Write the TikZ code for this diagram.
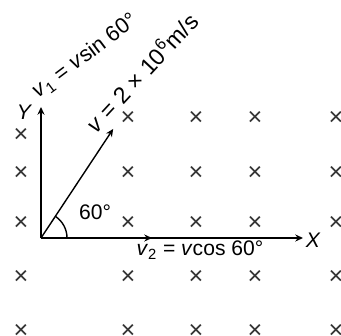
\documentclass[tikz,border=0pt]{standalone}
\usepackage{fontspec}
\setmainfont{Liberation Sans}
\usetikzlibrary{arrows.meta}

\begin{document}
\begin{tikzpicture}[
  lbl/.style={font=\fontsize{15}{18}\selectfont, inner sep=0pt},
  slant/.style={font=\fontsize{16.5}{19}\selectfont, inner sep=0pt},
  fld/.style={font=\fontsize{18}{20}\selectfont, inner sep=0pt, text=black!80},
  >={Stealth[length=5.5pt,width=5pt]}, line width=1pt
]
\useasboundingbox (-1.025,-2.425) rectangle (7.5,5.95);

% Field crosses (into the page)
\foreach \x [count=\i] in {2.175,3.875,5.35,7.375}
  \foreach \y [count=\j] in {3.0,1.625,0.375,-0.975,-2.325}
    \node[fld] (b\i\j) at (\x,\y) {×};
\foreach \y [count=\j] in {2.575,1.625,0.375,-0.975,-2.325}
  \node[fld] (a\j) at (-0.5,\y) {×};

% Axes and velocity
\coordinate (O) at (0,0);
\coordinate (Yend) at (0,3.275);
\coordinate (Xend) at (6.55,0);
\coordinate (V2end) at (2.775,0);
\coordinate (Vend) at (56.5:3.27);
\draw[->] (O) -- (Yend);
\draw[->] (O) -- (Xend);
\draw[->] (O) -- (V2end);
\draw[->] (O) -- (Vend);
\draw (0.65,0) arc[start angle=0, end angle=56.5, radius=0.65];

% Labels
\node[lbl, font=\fontsize{15}{18}\selectfont\itshape] (ylab) at (-0.43,3.15) {Y};
\node[lbl, font=\fontsize{15}{18}\selectfont\itshape] (xlab) at (6.8,-0.05) {X};
\node[slant, font=\fontsize{15.5}{18}\selectfont, rotate=37] (v1lab) at (1.1,4.55) {\textit{v}\textsubscript{1} = \textit{v}sin 60°};
\node[slant, rotate=47] (vlab) at (2.5,4.15) {\textit{v} = 2 × 10\textsuperscript{6}m/s};
\node[lbl] (ang) at (1.35,0.65) {60°};
\node[lbl] (v2lab) at (3.975,-0.3) {\textit{v}\textsubscript{2} = \textit{v}cos 60°};
\end{tikzpicture}
\end{document}
